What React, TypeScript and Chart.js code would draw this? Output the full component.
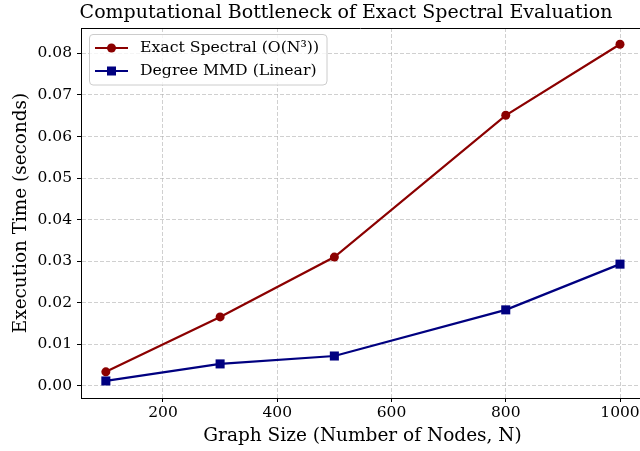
import React, { useEffect, useRef } from "react";
import { Chart, registerables } from "chart.js";

Chart.register(...registerables);

const nodes = [100, 300, 500, 800, 1000];
const exactSpectral = [0.0034, 0.0166, 0.031, 0.0651, 0.0822];
const degreeMMD = [0.0012, 0.0053, 0.0072, 0.0183, 0.0293];
const xTicks = [200, 400, 600, 800, 1000];
const yTicks = [0, 0.01, 0.02, 0.03, 0.04, 0.05, 0.06, 0.07, 0.08];

const titleText = "Computational Bottleneck of Exact Spectral Evaluation";
const xLabel = "Graph Size (Number of Nodes, N)";
const yLabel = "Execution Time (seconds)";
const seriesNames = ["Exact Spectral (O(N³))", "Degree MMD (Linear)"];
const seriesColors = ["#8b0000", "#000080"];

const SERIF = "'DejaVu Serif', serif";

const decorPlugin = {
  id: "decor",
  afterDraw(chart: any) {
    const { ctx, chartArea } = chart;
    ctx.save();
    // top spine
    ctx.strokeStyle = "#000";
    ctx.lineWidth = 1;
    ctx.beginPath();
    ctx.moveTo(chartArea.left, chartArea.top + 0.5);
    ctx.lineTo(chartArea.right, chartArea.top + 0.5);
    ctx.stroke();
    // title
    ctx.fillStyle = "#000";
    ctx.textAlign = "center";
    ctx.textBaseline = "middle";
    ctx.font = `19px ${SERIF}`;
    ctx.fillText(titleText, 346, 13);
    // x label
    ctx.font = `18.5px ${SERIF}`;
    ctx.fillText(xLabel, 362.5, 436);
    // y label
    ctx.save();
    ctx.translate(21, 213);
    ctx.rotate(-Math.PI / 2);
    ctx.font = `18.4px ${SERIF}`;
    ctx.fillText(yLabel, 0, 0);
    ctx.restore();
    // legend
    const lx = 89, ly = 34, lw = 238, lh = 51, r = 4;
    ctx.fillStyle = "rgba(255,255,255,0.8)";
    ctx.strokeStyle = "#cccccc";
    ctx.lineWidth = 1;
    ctx.beginPath();
    ctx.moveTo(lx + r, ly + 0.5);
    ctx.lineTo(lx + lw - r, ly + 0.5);
    ctx.quadraticCurveTo(lx + lw, ly + 0.5, lx + lw, ly + r);
    ctx.lineTo(lx + lw, ly + lh - r);
    ctx.quadraticCurveTo(lx + lw, ly + lh, lx + lw - r, ly + lh);
    ctx.lineTo(lx + r, ly + lh);
    ctx.quadraticCurveTo(lx + 0.5, ly + lh, lx + 0.5, ly + lh - r);
    ctx.lineTo(lx + 0.5, ly + r);
    ctx.quadraticCurveTo(lx + 0.5, ly + 0.5, lx + r, ly + 0.5);
    ctx.closePath();
    ctx.fill();
    ctx.stroke();
    const rows = [48, 71];
    rows.forEach((yy, i) => {
      ctx.strokeStyle = seriesColors[i];
      ctx.fillStyle = seriesColors[i];
      ctx.lineWidth = 2.2;
      ctx.beginPath();
      ctx.moveTo(95, yy);
      ctx.lineTo(128, yy);
      ctx.stroke();
      if (i === 0) {
        ctx.beginPath();
        ctx.arc(111.5, yy, 4.5, 0, Math.PI * 2);
        ctx.fill();
      } else {
        ctx.fillRect(107, yy - 4.5, 9, 9);
      }
      ctx.fillStyle = "#000";
      ctx.textAlign = "left";
      ctx.font = `15.7px ${SERIF}`;
      ctx.fillText(seriesNames[i], 140, yy);
    });
    ctx.restore();
  },
};

export default function App() {
  const ref = useRef<HTMLCanvasElement>(null);
  useEffect(() => {
    document.body.style.margin = "0";
    const gridCommon = {
      color: "rgba(176,176,176,0.6)",
      tickBorderDash: [],
      tickColor: "#000",
      tickLength: 4,
      lineWidth: 1,
      tickWidth: 1,
    };
    const borderCommon = { display: true, color: "#000", width: 1, dash: [4, 2] };
    const chart = new Chart(ref.current!, {
      type: "line",
      data: {
        datasets: [
          {
            label: seriesNames[0],
            data: nodes.map((x, i) => ({ x, y: exactSpectral[i] })),
            borderColor: seriesColors[0],
            backgroundColor: seriesColors[0],
            borderWidth: 2.2,
            pointStyle: "circle",
            pointRadius: 4.5,
            pointBorderWidth: 0,
          },
          {
            label: seriesNames[1],
            data: nodes.map((x, i) => ({ x, y: degreeMMD[i] })),
            borderColor: seriesColors[1],
            backgroundColor: seriesColors[1],
            borderWidth: 2.2,
            pointStyle: "rect",
            pointRadius: 6.4,
            pointBorderWidth: 0,
          },
        ],
      },
      options: {
        responsive: false,
        animation: false,
        layout: { autoPadding: false, padding: { top: 28, left: 0, right: 0, bottom: 0 } },
        plugins: { legend: { display: false }, title: { display: false }, tooltip: { enabled: false } },
        scales: {
          x: {
            type: "linear",
            min: 56.5,
            max: 1035,
            grid: gridCommon as any,
            border: borderCommon as any,
            ticks: {
              color: "#000",
              font: { family: SERIF, size: 15.5 },
              padding: 2,
              maxRotation: 0,
              callback: (v: any) => String(v),
            },
            afterBuildTicks: (s: any) => { s.ticks = xTicks.map((v) => ({ value: v })); },
            afterFit: (s: any) => { s.height = 53; s.paddingLeft = 0; s.paddingRight = 0; },
          },
          y: {
            type: "linear",
            min: -0.0029,
            max: 0.0861,
            grid: gridCommon as any,
            border: borderCommon as any,
            ticks: {
              color: "#000",
              font: { family: SERIF, size: 15.5 },
              padding: 5,
              callback: (v: any) => Number(v).toFixed(2),
            },
            afterBuildTicks: (s: any) => { s.ticks = yTicks.map((v) => ({ value: v })); },
            afterFit: (s: any) => { s.width = 81; s.paddingTop = 0; s.paddingBottom = 0; },
          },
        },
      },
      plugins: [decorPlugin],
    });
    return () => chart.destroy();
  }, []);
  return <canvas ref={ref} width={640} height={451} style={{ display: "block" }} />;
}
